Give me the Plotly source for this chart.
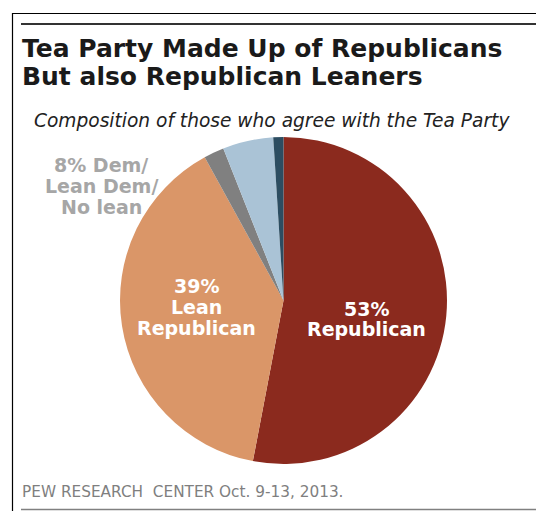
import plotly.graph_objects as go

# Composition of Tea Party supporters (percent)
labels = ["Republican", "Lean Republican", "Dem", "Lean Dem", "No lean"]
values = [53, 39, 2, 5, 1]
colors = ["#8B2A1E", "#DA9668", "#808080", "#AAC3D6", "#2C4D61"]

W, H = 536, 511


def px(x):
    return x / W


def py(y):
    return 1 - y / H


fig = go.Figure()

# pie centred at (283.5, 300.5) px with radius 163.5 px
cx, cy, r = 283.5, 300.5, 163.5
fig.add_trace(go.Pie(
    labels=labels,
    values=values,
    sort=False,
    direction="clockwise",
    rotation=0,
    marker=dict(colors=colors, line=dict(width=0)),
    textinfo="none",
    hoverinfo="label+percent",
    showlegend=False,
    domain=dict(x=[px(cx - r), px(cx + r)], y=[py(cy + r), py(cy - r)]),
))

rep, lean_rep = values[0], values[1]
dem_total = sum(values[2:])

body_font = "DejaVu Sans"
annotations = []


def add_lines(lines, x, y0, step, font, xanchor="center"):
    """Stack single-line annotations at a fixed line pitch."""
    for i, line in enumerate(lines):
        annotations.append(dict(
            x=px(x), y=py(y0 + i * step), xanchor=xanchor, yanchor="middle",
            text=line, font=font))


title_font = dict(family=body_font, size=25, color="#1a1a1a")
add_lines(["<b>Tea Party Made Up of Republicans</b>",
           "<b>But also Republican Leaners</b>"],
          20, 49, 27, title_font, xanchor="left")
add_lines(["<i>Composition of those who agree with the Tea Party</i>"],
          32, 120, 0, dict(family=body_font, size=18.6, color="#222222"),
          xanchor="left")

label_font = dict(family=body_font, size=19, color="white")
add_lines([f"<b>{rep}%</b>", "<b>Republican</b>"], 366, 309, 20, label_font)
add_lines([f"<b>{lean_rep}%</b>", "<b>Lean</b>", "<b>Republican</b>"],
          196, 286, 21, label_font)
add_lines([f"<b>{dem_total}% Dem/</b>", "<b>Lean Dem/</b>", "<b>No lean</b>"],
          101, 165, 21, dict(family=body_font, size=19, color="#A6A6A6"))

add_lines(["PEW RESEARCH\u00a0 CENTER Oct. 9-13, 2013."], 20, 492, 0,
          dict(family=body_font, size=15.3, color="#7F7F7F"), xanchor="left")

for a in annotations:
    a.update(xref="paper", yref="paper", showarrow=False)

# frame rules
shapes = [
    dict(type="line", x0=px(12.5), x1=px(12.5), y0=py(13), y1=py(511),
         line=dict(color="#000000", width=1.2)),
    dict(type="line", x0=px(12), x1=1, y0=py(13.5), y1=py(13.5),
         line=dict(color="#000000", width=1.2)),
    dict(type="line", x0=px(21), x1=1, y0=py(24), y1=py(24),
         line=dict(color="#333333", width=2)),
    dict(type="line", x0=px(21), x1=1, y0=py(509.5), y1=py(509.5),
         line=dict(color="#808080", width=1.5)),
]
for s in shapes:
    s.update(xref="paper", yref="paper")

fig.update_layout(
    width=W, height=H,
    margin=dict(l=0, r=0, t=0, b=0),
    paper_bgcolor="white",
    plot_bgcolor="white",
    annotations=annotations,
    shapes=shapes,
)

fig.write_html("out.html")
